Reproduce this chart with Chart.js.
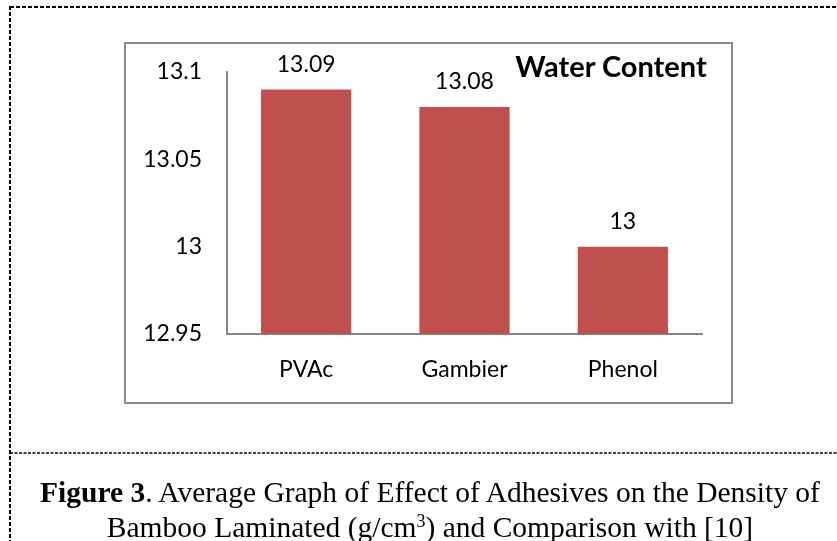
<!DOCTYPE html>
<html>
<head>
<meta charset="utf-8">
<script src="https://cdn.jsdelivr.net/npm/chart.js@4.4.1/dist/chart.umd.min.js"></script>
<style>
  html, body { margin: 0; padding: 0; background: #fff; }
  body { width: 837px; height: 541px; position: relative; overflow: hidden; }
  #frame { position: absolute; left: 0; top: 0; }
  #box { position: absolute; left: 124px; top: 42px; width: 605px; height: 358px; border: 2px solid #8c8c8c; }
  #chartWrap { position: absolute; left: 0; top: 0; width: 837px; height: 541px; }
  #title { position: absolute; left: 480px; width: 262px; text-align: center; top: 48px;
           font-family: Lato, sans-serif; font-weight: bold; font-size: 29px; color: #000; line-height: 36px; }
  #caption { position: absolute; left: 0px; width: 860px; top: 475px; text-align: center; white-space: nowrap;
             font-family: "Liberation Serif", "Times New Roman", serif; font-size: 29.5px; line-height: 35px; color: #000; }
  #caption sup { font-size: 18px; vertical-align: 10px; line-height: 0; }
</style>
</head>
<body>
<svg id="frame" width="837" height="541">
  <line x1="10" y1="7" x2="837" y2="7" stroke="#000" stroke-width="2" stroke-dasharray="4,2"/>
  <line x1="10" y1="6" x2="10" y2="541" stroke="#000" stroke-width="2" stroke-dasharray="4,2"/>
  <line x1="10" y1="453" x2="837" y2="453" stroke="#000" stroke-width="1.5" stroke-dasharray="3,1.5"/>
</svg>
<div id="box"></div>
<div id="chartWrap"><canvas id="c" width="837" height="541"></canvas></div>
<div id="title">Water Content</div>
<div id="caption"><b>Figure 3</b>. Average Graph of Effect of Adhesives on the Density of<br>Bamboo Laminated (g/cm<sup>3</sup>) and Comparison with [10]</div>
<script>
const categories = ['PVAc', 'Gambier', 'Phenol'];
const waterContent = [13.09, 13.08, 13.00];
const valueLabels = ['13.09', '13.08', '13'];
const yTickValues = [12.95, 13.00, 13.05, 13.10];
const yTickLabels = ['12.95', '13', '13.05', '13.1'];

const valueLabelPlugin = {
  id: 'valueLabels',
  afterDatasetsDraw(chart) {
    const ctx = chart.ctx;
    const meta = chart.getDatasetMeta(0);
    ctx.save();
    ctx.font = '23px Lato, sans-serif';
    ctx.fillStyle = '#000';
    ctx.textAlign = 'center';
    ctx.textBaseline = 'middle';
    meta.data.forEach((bar, i) => {
      ctx.fillText(valueLabels[i], bar.x, bar.y - 25);
    });
    ctx.restore();
  }
};

new Chart(document.getElementById('c'), {
  type: 'bar',
  data: {
    labels: categories,
    datasets: [{
      data: waterContent,
      backgroundColor: '#C0504D',
      borderWidth: 0,
      categoryPercentage: 1.0,
      barPercentage: 0.57
    }]
  },
  options: {
    responsive: false,
    animation: false,
    devicePixelRatio: 1,
    layout: { padding: { left: 110, right: 135, top: 72, bottom: 147 } },
    plugins: { legend: { display: false }, tooltip: { enabled: false }, title: { display: false } },
    scales: {
      x: {
        grid: { display: false, drawTicks: false },
        border: { display: true, color: '#868686', width: 2 },
        ticks: { color: '#000', font: { family: 'Lato, sans-serif', size: 23 }, padding: 22 },
        afterFit(scale) { scale.height = 60; }
      },
      y: {
        min: 12.95,
        max: 13.10,
        grid: { display: false, drawTicks: false },
        border: { display: true, color: '#868686', width: 2 },
        afterBuildTicks(scale) { scale.ticks = yTickValues.map(v => ({ value: v })); },
        ticks: {
          color: '#000',
          font: { family: 'Lato, sans-serif', size: 23 },
          padding: 25,
          callback: (v, i) => yTickLabels[i]
        },
        afterFit(scale) { scale.width = 117; }
      }
    }
  },
  plugins: [valueLabelPlugin]
});
</script>
</body>
</html>
